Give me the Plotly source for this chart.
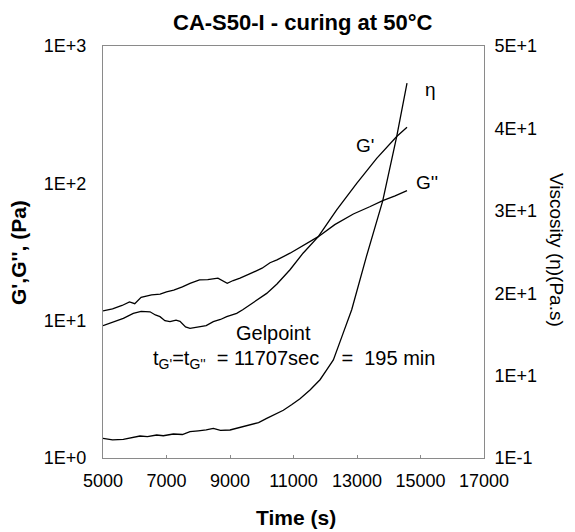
import plotly.graph_objects as go

# ---- data ----
# G'' (loss modulus), Pa
t_g2 = [5000, 5300, 5600, 5835, 6000, 6200, 6530, 6800, 7000, 7227, 7500, 7740,
        8040, 8300, 8620, 8780, 8913, 9100, 9316, 9600, 10010, 10260, 10480,
        10890, 11300, 11781, 12300, 12885, 13400, 13810, 14200, 14575]
g2 = [11.8, 12.2, 12.9, 13.7, 13.3, 14.8, 15.4, 15.6, 16.2, 16.7, 17.6, 18.7,
      19.8, 19.9, 20.4, 19.5, 18.7, 19.6, 20.4, 21.8, 24.1, 26.4, 27.7,
      31.0, 35.0, 40.9, 50.0, 59.8, 67.5, 74.8, 81.0, 88.5]

# G' (storage modulus), Pa
t_g1 = [5000, 5300, 5640, 5954, 6200, 6480, 6650, 6795, 6950, 7110, 7300, 7425,
        7600, 7740, 8050, 8250, 8474, 8700, 8896, 9211, 9400, 9630, 9900,
        10156, 10480, 10890, 11300, 11781, 12360, 12991, 13620, 14250, 14575]
g1 = [9.2, 9.7, 10.4, 11.3, 11.7, 11.6, 11.0, 10.7, 10.0, 9.84, 10.1, 9.9,
      9.0, 8.8, 9.0, 9.2, 9.84, 10.2, 10.7, 11.3, 12.0, 13.0, 14.3,
      15.8, 18.5, 23.5, 31.0, 40.9, 64.0, 100.0, 152.0, 219.0, 256.0]

# eta (viscosity), Pa.s
t_eta = [5000, 5300, 5640, 5900, 6165, 6400, 6690, 6900, 7215, 7500, 7740, 8000,
         8250, 8474, 8700, 9000, 9300, 9630, 9900, 10156, 10400, 10680, 10950,
         11205, 11520, 11835, 12045, 12255, 12550, 12833, 13300, 13810, 14250, 14575]
eta = [2.39, 2.2, 2.27, 2.5, 2.67, 2.6, 2.79, 2.7, 2.91, 2.85, 3.19, 3.3,
       3.4, 3.6, 3.35, 3.4, 3.7, 4.0, 4.3, 4.8, 5.3, 5.8, 6.5,
       7.2, 8.25, 9.5, 10.7, 11.9, 15.0, 18.0, 24.5, 31.2, 39.0, 45.5]

x_ticks = [5000, 7000, 9000, 11000, 13000, 15000, 17000]
x_ticktext = ["5000", "7000", "9000", "11000", "13000", "15000", "17000"]
y_ticks = [1, 10, 100, 1000]
y_ticktext = ["1E+0", "1E+1", "1E+2", "1E+3"]
y2_ticks = [0, 10, 20, 30, 40, 50]
y2_ticktext = ["1E-1", "1E+1", "2E+1", "3E+1", "4E+1", "5E+1"]

FONT = "Liberation Sans, Arial, Helvetica, sans-serif"
LINE = dict(color="black", width=1.3)

fig = go.Figure()
fig.add_trace(go.Scatter(x=t_g1, y=g1, mode="lines", line=LINE, name="G'", yaxis="y"))
fig.add_trace(go.Scatter(x=t_g2, y=g2, mode="lines", line=LINE, name="G''", yaxis="y"))
fig.add_trace(go.Scatter(x=t_eta, y=eta, mode="lines", line=LINE, name="eta", yaxis="y2"))

# plot area in pixels: x 103..484, y 46..458
L, R, T, B = 103, 484, 46, 458
W, H = 575, 532


def px(x):
    return (x - L) / (R - L)


def py(y):
    return (B - y) / (B - T)


ann = []


def add(text, x, y, size=20, bold=False, angle=0, xanchor="center"):
    ann.append(dict(text=("<b>%s</b>" % text) if bold else text, x=px(x), y=py(y),
                    xref="paper", yref="paper", showarrow=False, textangle=angle,
                    xanchor=xanchor, yanchor="middle",
                    font=dict(family=FONT, size=size, color="black")))


add("CA-S50-I - curing at 50°C", 303, 23, size=22, bold=True)
add("Time (s)", 296, 517, size=21, bold=True)
add("G',G'', (Pa)", 18, 253, size=21, bold=True, angle=-90)
add("Viscosity (\u03b7)(Pa.s)", 557, 250, size=19, angle=90)
add("Gelpoint", 273, 333, size=20)
nb = "\u00a0"
add("t<sub>G'</sub>=t<sub>G''</sub>" + nb * 2 + "= 11707sec" + nb * 4 + "=" + nb * 2 + "195 min",
    151, 359, size=20, xanchor="left")
add("\u03b7", 430, 90, size=19)
add("G'", 365, 145, size=19)
add("G''", 427, 183, size=19)

axis_common = dict(showgrid=False, zeroline=False, showline=True, linecolor="#8a8a8a",
                   linewidth=1, tickfont=dict(family=FONT, size=18, color="black"))

fig.update_layout(
    width=W, height=H,
    margin=dict(l=L, r=W - R, t=T, b=H - B, pad=0),
    paper_bgcolor="white", plot_bgcolor="white",
    showlegend=False,
    annotations=ann,
    xaxis=dict(range=[5000, 17000], tickvals=x_ticks, ticktext=x_ticktext, ticks="inside",
               ticklen=3, tickcolor="#8a8a8a", mirror=True, ticklabelstandoff=6,
               **axis_common),
    yaxis=dict(type="log", range=[0, 3], tickvals=y_ticks, ticktext=y_ticktext,
               ticks="", mirror=True, ticklabelstandoff=12, **axis_common),
    yaxis2=dict(range=[0, 50], tickvals=y2_ticks, ticktext=y2_ticktext, overlaying="y",
                side="right", ticks="", ticklabelstandoff=6, **axis_common),
)

fig.write_html("out.html")
